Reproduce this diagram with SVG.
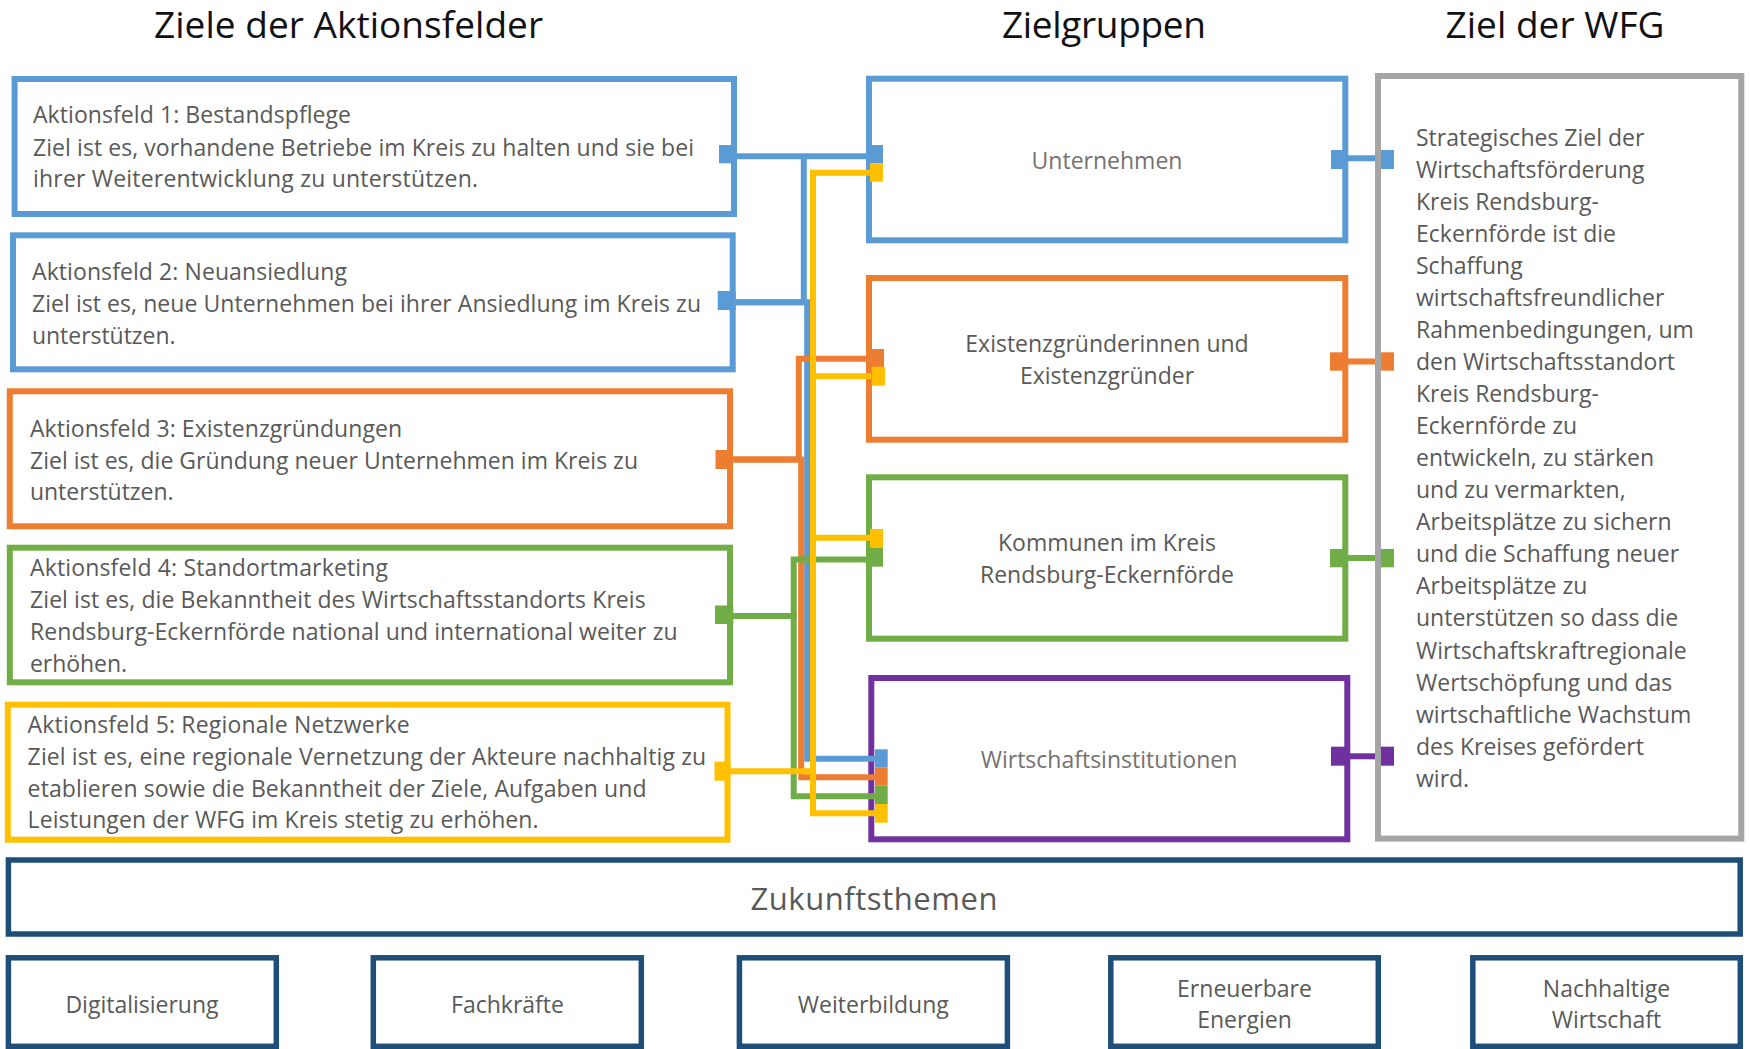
<svg xmlns="http://www.w3.org/2000/svg" width="1750" height="1049" viewBox="0 0 1750 1049">
<style>
text{font-family:"Open Sans","Noto Sans","DejaVu Sans",sans-serif;}
.hdr{font-size:37px;fill:#111;text-anchor:middle;}
.t{font-size:23px;fill:#595959;}
.tm{font-size:23px;fill:#595959;text-anchor:middle;}
.tl{font-size:23px;fill:#757171;text-anchor:middle;}
.box{fill:#fff;stroke-width:6;}
.bb{fill:#fff;stroke:#1F4E79;stroke-width:5.5;}
.blue{stroke:#5B9BD5;}
.orange{stroke:#ED7D31;}
.green{stroke:#70AD47;}
.yellow{stroke:#FFC000;}
.purple{stroke:#7030A0;}
.gray{stroke:#A5A5A5;}
.c{fill:none;stroke-width:6;stroke-linejoin:miter;}
.fb{fill:#5B9BD5;}
.fo{fill:#ED7D31;}
.fg{fill:#70AD47;}
.fy{fill:#FFC000;}
.fp{fill:#7030A0;}
</style>

<g id="headers">
<text class="hdr" x="348.5" y="38" textLength="389">Ziele der Aktionsfelder</text>
<text class="hdr" x="1104" y="38" textLength="204">Zielgruppen</text>
<text class="hdr" x="1555" y="38" textLength="219">Ziel der WFG</text>
</g>

<g id="af1">
<rect class="box blue" x="14.6" y="79" width="719.4" height="135"/>
<text class="t" x="33" y="123.3" textLength="318">Aktionsfeld 1: Bestandspflege</text>
<text class="t" x="33" y="155.5" textLength="661">Ziel ist es, vorhandene Betriebe im Kreis zu halten und sie bei</text>
<text class="t" x="33" y="187" textLength="445">ihrer Weiterentwicklung zu unterstützen.</text>
</g>
<g id="af2">
<rect class="box blue" x="13" y="235.3" width="719.7" height="134"/>
<text class="t" x="32" y="280" textLength="315">Aktionsfeld 2: Neuansiedlung</text>
<text class="t" x="32" y="312" textLength="669">Ziel ist es, neue Unternehmen bei ihrer Ansiedlung im Kreis zu</text>
<text class="t" x="32" y="343.5" textLength="143.5">unterstützen.</text>
</g>
<g id="af3">
<rect class="box orange" x="9.8" y="391.3" width="720.2" height="135"/>
<text class="t" x="30" y="436.7" textLength="372">Aktionsfeld 3: Existenzgründungen</text>
<text class="t" x="30" y="468.5" textLength="608">Ziel ist es, die Gründung neuer Unternehmen im Kreis zu</text>
<text class="t" x="30" y="500" textLength="143.5">unterstützen.</text>
</g>
<g id="af4">
<rect class="box green" x="9.8" y="547.7" width="720.2" height="134.6"/>
<text class="t" x="30" y="576" textLength="358">Aktionsfeld 4: Standortmarketing</text>
<text class="t" x="30" y="608.3" textLength="615.7">Ziel ist es, die Bekanntheit des Wirtschaftsstandorts Kreis</text>
<text class="t" x="30" y="640" textLength="647.6">Rendsburg-Eckernförde national und international weiter zu</text>
<text class="t" x="30" y="671.7" textLength="97">erhöhen.</text>
</g>
<g id="af5">
<rect class="box yellow" x="7.8" y="704.7" width="719.7" height="135"/>
<text class="t" x="27.6" y="732.7" textLength="382">Aktionsfeld 5: Regionale Netzwerke</text>
<text class="t" x="27.6" y="765" textLength="678.6">Ziel ist es, eine regionale Vernetzung der Akteure nachhaltig zu</text>
<text class="t" x="27.6" y="796.7" textLength="619">etablieren sowie die Bekanntheit der Ziele, Aufgaben und</text>
<text class="t" x="27.6" y="828.3" textLength="511">Leistungen der WFG im Kreis stetig zu erhöhen.</text>
</g>

<g id="zg-unternehmen">
<rect class="box blue" x="869" y="78.7" width="476.3" height="161.6"/>
<text class="tl" x="1107" y="169">Unternehmen</text>
</g>
<g id="zg-existenz">
<rect class="box orange" x="869" y="278" width="476.3" height="161.7"/>
<text class="tm" x="1107" y="352.3">Existenzgründerinnen und</text>
<text class="tm" x="1107" y="384">Existenzgründer</text>
</g>
<g id="zg-kommunen">
<rect class="box green" x="869" y="477.3" width="476.3" height="161.4"/>
<text class="tm" x="1107" y="550.7">Kommunen im Kreis</text>
<text class="tm" x="1107" y="582.7">Rendsburg-Eckernförde</text>
</g>
<g id="zg-institutionen">
<rect class="box purple" x="871.3" y="678" width="476" height="161.3"/>
<text class="tl" x="1109" y="767.7">Wirtschaftsinstitutionen</text>
</g>

<g id="connectors">
<path class="c blue" d="M737 156.3 H870"/>
<path class="c blue" d="M735.7 302.2 H803.8 V156.3"/>
<path class="c blue" d="M735.7 302.2 H807.2 V758.8 H875"/>
<path class="c orange" d="M733 459.5 H798.8 V358.7 H870"/>
<path class="c orange" d="M733 459.5 H801.2 V777.2 H875"/>
<path class="c green" d="M733 616 H793.7 V559.5 H870"/>
<path class="c green" d="M733 616 H793.7 V796.3 H875"/>
<path class="c yellow" d="M730.5 771.3 H813 V172.8 H870"/>
<path class="c yellow" d="M813 376.3 H871"/>
<path class="c yellow" d="M813 537.8 H870"/>
<path class="c yellow" d="M813 771.3 V813.3 H875"/>
<path class="c blue" d="M1345 158.3 H1378"/>
<path class="c orange" d="M1345 361.5 H1378"/>
<path class="c green" d="M1345 558 H1378"/>
<path class="c purple" d="M1347 756.3 H1378"/>
<g id="ends">
<rect class="fb" x="719" y="145" width="18" height="18.3"/>
<rect class="fb" x="717.7" y="291" width="18" height="19"/>
<rect class="fo" x="715.5" y="450" width="17.5" height="19"/>
<rect class="fg" x="715" y="605.5" width="18.3" height="18.5"/>
<rect class="fy" x="714.5" y="761.7" width="16" height="19"/>
<rect class="fb" x="870" y="145" width="13" height="18.3"/>
<rect class="fy" x="870" y="163.3" width="13" height="18.4"/>
<rect class="fo" x="870" y="349" width="14" height="18"/>
<rect class="fy" x="871.7" y="366.7" width="13.3" height="19"/>
<rect class="fy" x="870" y="529" width="13" height="18.7"/>
<rect class="fg" x="870" y="547.7" width="13" height="19"/>
<rect class="fb" x="875" y="749.3" width="12.7" height="18.4"/>
<rect class="fo" x="875" y="767.7" width="12.7" height="18"/>
<rect class="fg" x="875" y="785.7" width="12.7" height="18.3"/>
<rect class="fy" x="875" y="804" width="12.7" height="18.7"/>
<rect class="fb" x="1331" y="150" width="14" height="19"/>
<rect class="fo" x="1330" y="352.3" width="15" height="18.4"/>
<rect class="fg" x="1330" y="549" width="15" height="18.3"/>
<rect class="fp" x="1331" y="746.7" width="15" height="19"/>
<rect class="fb" x="1381" y="150" width="13" height="19"/>
<rect class="fo" x="1381" y="352.3" width="13" height="18.4"/>
<rect class="fg" x="1381" y="549" width="13" height="18.3"/>
<rect class="fp" x="1381" y="746.7" width="13" height="19"/>
</g>
</g>

<g id="ziel-wfg">
<rect class="gray" x="1378" y="76" width="363.3" height="762.6" fill="none" stroke-width="6"/>
<text class="t" x="1416" y="145.7">Strategisches Ziel der</text>
<text class="t" x="1416" y="177.7">Wirtschaftsförderung</text>
<text class="t" x="1416" y="209.8">Kreis Rendsburg-</text>
<text class="t" x="1416" y="241.8">Eckernförde ist die</text>
<text class="t" x="1416" y="273.9">Schaffung</text>
<text class="t" x="1416" y="305.9">wirtschaftsfreundlicher</text>
<text class="t" x="1416" y="338">Rahmenbedingungen, um</text>
<text class="t" x="1416" y="370">den Wirtschaftsstandort</text>
<text class="t" x="1416" y="402.1">Kreis Rendsburg-</text>
<text class="t" x="1416" y="434.1">Eckernförde zu</text>
<text class="t" x="1416" y="466.2">entwickeln, zu stärken</text>
<text class="t" x="1416" y="498.2">und zu vermarkten,</text>
<text class="t" x="1416" y="530.3">Arbeitsplätze zu sichern</text>
<text class="t" x="1416" y="562.3">und die Schaffung neuer</text>
<text class="t" x="1416" y="594.4">Arbeitsplätze zu</text>
<text class="t" x="1416" y="626.4">unterstützen so dass die</text>
<text class="t" x="1416" y="658.5">Wirtschaftskraftregionale</text>
<text class="t" x="1416" y="690.5">Wertschöpfung und das</text>
<text class="t" x="1416" y="722.6">wirtschaftliche Wachstum</text>
<text class="t" x="1416" y="754.6">des Kreises gefördert</text>
<text class="t" x="1416" y="786.7">wird.</text>
</g>

<g id="zukunftsthemen">
<rect class="bb" x="8.4" y="860" width="1731.8" height="74"/>
<text class="tm" x="874" y="910" style="font-size:31px" textLength="247">Zukunftsthemen</text>
</g>
<g id="digitalisierung">
<rect class="bb" x="8.4" y="957.8" width="267.9" height="88.5"/>
<text class="tm" x="142" y="1013">Digitalisierung</text>
</g>
<g id="fachkraefte">
<rect class="bb" x="373.3" y="957.8" width="268" height="88.5"/>
<text class="tm" x="507.5" y="1013">Fachkräfte</text>
</g>
<g id="weiterbildung">
<rect class="bb" x="739.4" y="957.8" width="268" height="88.5"/>
<text class="tm" x="873.3" y="1013">Weiterbildung</text>
</g>
<g id="erneuerbare">
<rect class="bb" x="1110.8" y="957.8" width="267.5" height="88.5"/>
<text class="tm" x="1244.5" y="996.7">Erneuerbare</text>
<text class="tm" x="1244.5" y="1028.3">Energien</text>
</g>
<g id="nachhaltige">
<rect class="bb" x="1472.8" y="957.8" width="267.5" height="88.5"/>
<text class="tm" x="1606.5" y="996.7">Nachhaltige</text>
<text class="tm" x="1606.5" y="1028.3">Wirtschaft</text>
</g>
</svg>
